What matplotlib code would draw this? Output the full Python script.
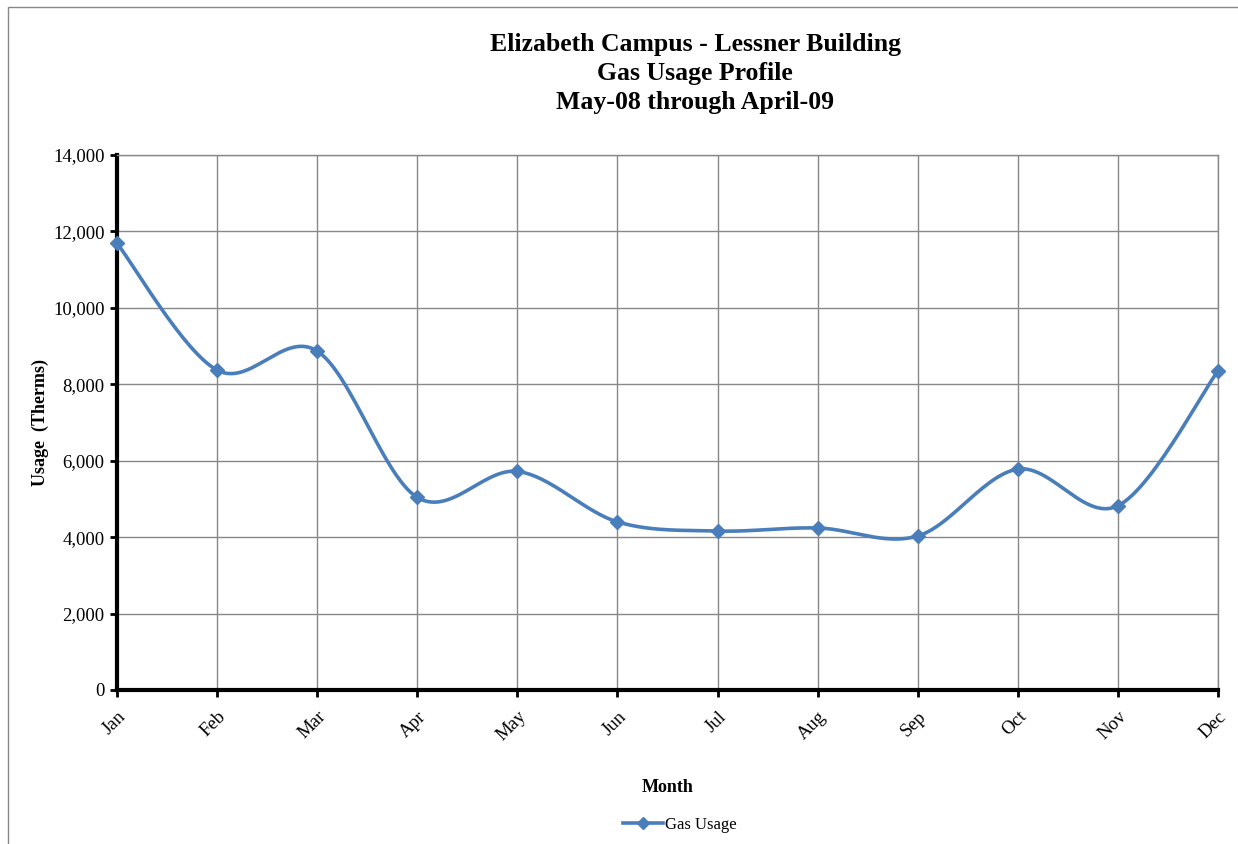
import numpy as np
import matplotlib.pyplot as plt
from matplotlib.patches import Rectangle
from matplotlib.lines import Line2D

plt.rcParams['font.family'] = ['Liberation Serif', 'DejaVu Serif']

months = ['Jan', 'Feb', 'Mar', 'Apr', 'May', 'Jun', 'Jul', 'Aug', 'Sep', 'Oct', 'Nov', 'Dec']
usage = [11690, 8370, 8870, 5040, 5720, 4400, 4160, 4240, 4030, 5780, 4820, 8350]
title_lines = ['Elizabeth Campus - Lessner Building', 'Gas Usage Profile', 'May-08 through April-09']

color = '#4A7EBB'


def smooth(x, y, n=30):
    # excel-like smoothing: bezier segments with catmull-rom control points
    x = np.asarray(x, float)
    y = np.asarray(y, float)
    px, py = [], []
    for i in range(len(x) - 1):
        i0 = max(i - 1, 0)
        i3 = min(i + 2, len(x) - 1)
        c1 = (x[i] + (x[i + 1] - x[i0]) / 6, y[i] + (y[i + 1] - y[i0]) / 6)
        c2 = (x[i + 1] - (x[i3] - x[i]) / 6, y[i + 1] - (y[i3] - y[i]) / 6)
        t = np.linspace(0, 1, n)
        bx = (1-t)**3*x[i] + 3*(1-t)**2*t*c1[0] + 3*(1-t)*t**2*c2[0] + t**3*x[i+1]
        by = (1-t)**3*y[i] + 3*(1-t)**2*t*c1[1] + 3*(1-t)*t**2*c2[1] + t**3*y[i+1]
        px.extend(bx)
        py.extend(by)
    return px, py


fig = plt.figure(figsize=(12.38, 8.44), dpi=100)
ax = fig.add_axes([117/1238, 1 - 690/844, (1218-117)/1238, (690-155)/844])

# chart area border
fig.patches.append(Rectangle((8/1238, -0.1), 1.2, 1 - 7/844 + 0.1, transform=fig.transFigure,
                             fill=False, edgecolor='#888888', linewidth=1))

xs = np.arange(len(months))
sx, sy = smooth(xs, usage)
ax.plot(sx, sy, color=color, linewidth=2.6, zorder=3, clip_on=False)
ax.plot(xs, usage, linestyle='none', marker='D', markersize=7, color=color, zorder=4, clip_on=False)

ax.set_xlim(0, 11)
ax.set_ylim(0, 14000)
ax.set_yticks(np.arange(0, 14001, 2000))
ax.set_yticklabels([f'{v:,}' for v in range(0, 14001, 2000)], fontsize=13.5)
ax.set_xticks(xs)
ax.set_xticklabels(months, fontsize=13.5, rotation=45, ha='right', va='top', rotation_mode='anchor')
ax.grid(True, color='#888888', linewidth=1)
ax.set_axisbelow(True)

for s in ['top', 'right']:
    ax.spines[s].set_color('#888888')
    ax.spines[s].set_linewidth(1)
for s in ['left', 'bottom']:
    ax.spines[s].set_color('black')
    ax.spines[s].set_linewidth(3)
ax.tick_params(axis='both', length=5, width=2, color='black', pad=4)
ax.tick_params(axis='x', pad=8)

ax.set_ylabel('Usage  (Therms)', fontsize=13, fontweight='bold', labelpad=3)
ax.set_xlabel('Month', fontsize=13, fontweight='bold', labelpad=25)

for i, line in enumerate(title_lines):
    fig.text(695/1238, 1 - (51 + 29 * i)/844, line, ha='center', va='baseline',
             fontsize=18.5, fontweight='bold')

handle = Line2D([], [], color=color, linewidth=2.6, marker='D', markersize=6)
fig.legend([handle], ['Gas Usage'], loc='center', bbox_to_anchor=(680/1238, 1 - 825/844),
           frameon=False, fontsize=12, handlelength=2.4, handletextpad=0.1)

fig.savefig('out.png', dpi=100)
